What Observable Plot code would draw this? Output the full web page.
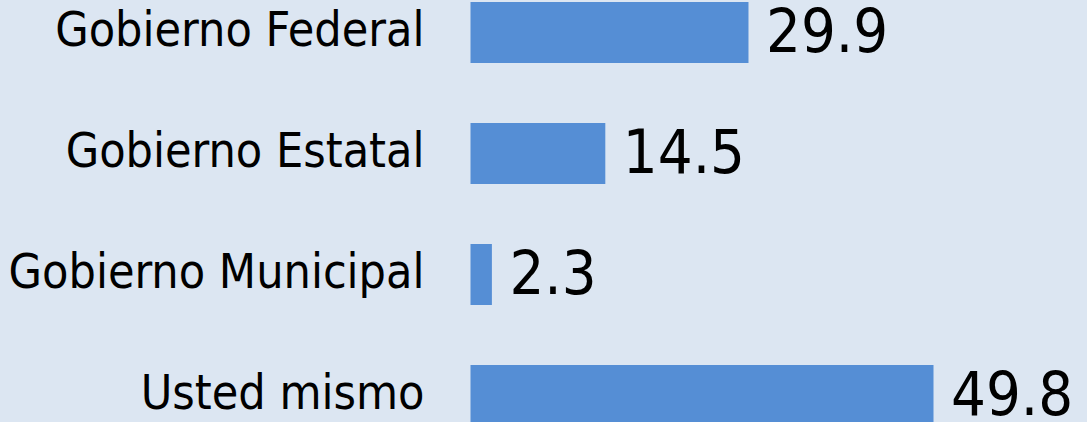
<!DOCTYPE html>
<html>
<head>
<meta charset="utf-8">
<script src="https://cdn.jsdelivr.net/npm/d3@7"></script>
<script src="https://cdn.jsdelivr.net/npm/@observablehq/plot@0.6"></script>
<style>
  html, body { margin: 0; padding: 0; background: #DCE6F2; overflow: hidden; }
  svg { overflow: hidden; }
</style>
</head>
<body>
<div id="chart"></div>
<script>
const categories = ["Gobierno Federal", "Gobierno Estatal", "Gobierno Municipal", "Usted mismo"];
const values = [29.9, 14.5, 2.3, 49.8];
const valueLabels = ["29.9", "14.5", "2.3", "49.8"];

const data = categories.map((c, i) => ({category: c, value: values[i], label: valueLabels[i]}));

const chart = Plot.plot({
  width: 1087,
  height: 422,
  marginLeft: 470,
  marginRight: 0,
  marginTop: 0,
  marginBottom: 0,
  style: {background: "#DCE6F2", fontFamily: "'DejaVu Sans Condensed', 'DejaVu Sans', sans-serif", color: "#000"},
  x: {domain: [0, 49.8], range: [470.5, 933.5], axis: null},
  y: {domain: categories, range: [1, 427], paddingInner: 0.5, paddingOuter: 0, label: null},
  marks: [
    Plot.barX(data, {x: "value", y: "category", fill: "#558ED5"}),
    Plot.axisY({tickSize: 0, tickPadding: 46, fontSize: 48, dy: -2, label: null, fill: "#000"}),
    Plot.text(data, {x: "value", y: "category", text: "label", dx: 17, dy: -1, textAnchor: "start", fontSize: 61, fill: "#000", letterSpacing: 2})
  ]
});
document.getElementById("chart").appendChild(chart);
</script>
</body>
</html>
